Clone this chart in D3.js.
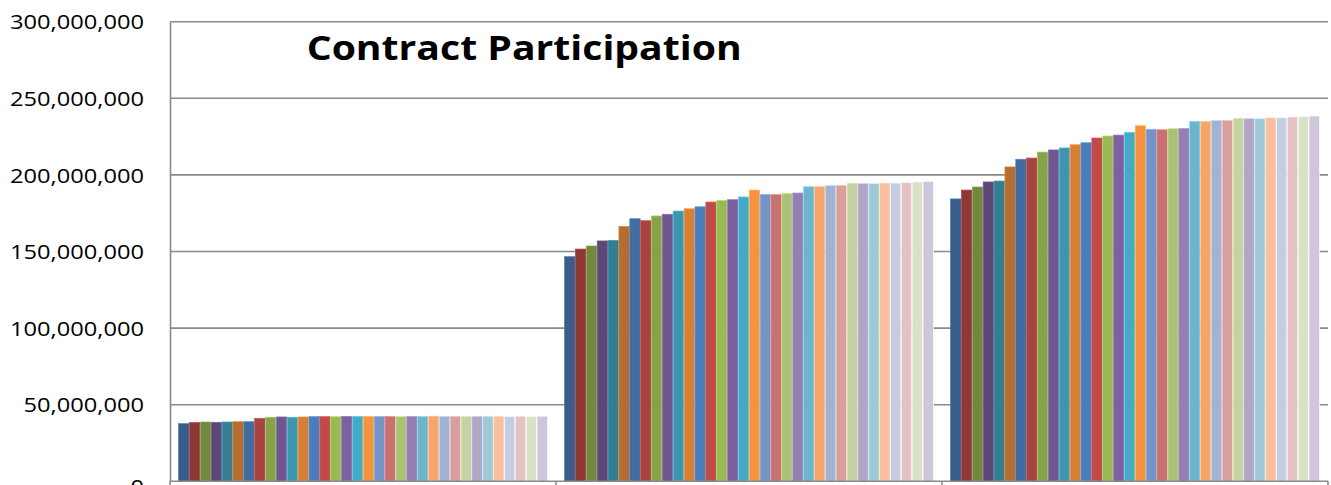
<!DOCTYPE html>
<html>
<head>
<meta charset="utf-8">
<script src="https://cdn.jsdelivr.net/npm/d3@7"></script>
<style>
  html, body { margin: 0; padding: 0; background: #ffffff; }
  svg { display: block; }
</style>
</head>
<body>
<svg id="chart" width="1331" height="485"></svg>
<script>
// ---- data ----
const categories = ["Category 1", "Category 2", "Category 3"];
const seriesNames = d3.range(1, 35).map(i => "Series " + i);
const category1Values = [37.6, 38.3, 38.7, 38.5, 38.7, 38.9, 38.9, 41.1, 41.8, 42.0, 41.8, 42.0,
  42.2, 42.2, 42.2, 42.4, 42.4, 42.2, 42.3, 42.4, 42.3, 42.4, 42.4, 42.5, 42.4, 42.4, 42.5, 42.4,
  42.5, 42.5, 42.4, 42.5, 42.4, 42.5].map(v => v * 1e6);
const category2Values = [146.6, 151.6, 153.6, 156.9, 157.3, 166.4, 171.4, 170.1, 173.2, 174.3, 176.4, 177.9,
  179.2, 182.3, 183.4, 183.8, 185.6, 190.1, 187.3, 187.1, 188.0, 188.2, 192.3, 192.3, 193.0, 193.2, 194.7, 194.3,
  194.3, 194.7, 194.7, 194.9, 195.4, 195.8].map(v => v * 1e6);
const category3Values = [184.3, 190.1, 192.1, 195.4, 196.0, 205.2, 210.2, 211.0, 214.9, 216.3, 217.6, 219.7,
  221.0, 224.1, 225.4, 226.0, 227.8, 232.1, 229.8, 229.5, 230.2, 230.4, 235.0, 235.0, 235.6, 235.6, 237.1, 236.7,
  236.7, 237.3, 237.3, 237.8, 238.2, 238.4].map(v => v * 1e6);
const seriesColors = [
  "#385D8A", "#8C3836", "#71893F", "#5C4776", "#357D91", "#B66D31",
  "#416CA0", "#A74442", "#86A34B", "#6E5690", "#3D95AE", "#D67F36",
  "#4A7EBB", "#BE4B48", "#98B954", "#7D60A0", "#46AAC5", "#F69240",
  "#7394C5", "#C97170", "#A9C276", "#957FB2", "#6EB5CB", "#F8A56C",
  "#A0B3D5", "#D7A09F", "#C3D3A3", "#B2A6C6", "#A0C9D8", "#F9BF9E",
  "#C4CDE2", "#E2C2C2", "#D8E2C6", "#CEC6DA"
];
const yTicks = [0, 50e6, 100e6, 150e6, 200e6, 250e6, 300e6];
const titleText = "Contract Participation";

const valuesByCategory = [category1Values, category2Values, category3Values];

// ---- layout ----
const svg = d3.select("#chart");
const plotLeft = 170, plotRight = 1328, plotTop = 21.7, plotBottom = 481.3;
const gridColor = "#8a8a8a";
const font = "'Open Sans', Lato, sans-serif";

const x0 = d3.scaleBand().domain(categories).range([plotLeft, plotRight]).paddingInner(0.0433).paddingOuter(0.0433 / 2);
const x1 = d3.scaleBand().domain(seriesNames).range([0, x0.bandwidth()]).padding(0);
const y = d3.scaleLinear().domain([0, 300e6]).range([plotBottom, plotTop]);

// gridlines
svg.append("g")
  .selectAll("line")
  .data(yTicks.filter(t => t > 0))
  .join("line")
  .attr("x1", plotLeft).attr("x2", plotRight)
  .attr("y1", d => y(d)).attr("y2", d => y(d))
  .attr("stroke", gridColor).attr("stroke-width", 1.6);

// bars
const groups = svg.append("g")
  .selectAll("g")
  .data(categories)
  .join("g")
  .attr("transform", d => `translate(${x0(d)},0)`);

groups.selectAll("rect")
  .data((c, ci) => seriesNames.map((s, si) => ({ s, si, v: valuesByCategory[ci][si] })))
  .join("rect")
  .attr("x", d => x1(d.s) + 0.25)
  .attr("width", x1.bandwidth() - 0.5)
  .attr("y", d => y(d.v))
  .attr("height", d => y(0) - y(d.v))
  .attr("fill", d => seriesColors[d.si])
  .attr("stroke", d => d3.color(seriesColors[d.si]).brighter(0.6).formatHex())
  .attr("stroke-width", 0.7);

// y axis
const yAxis = svg.append("g")
  .attr("transform", `translate(${plotLeft},0)`)
  .call(d3.axisLeft(y).tickValues(yTicks).tickFormat(d3.format(",")).tickSize(0).tickPadding(26));
yAxis.select(".domain").attr("stroke", gridColor).attr("stroke-width", 1.6);
yAxis.selectAll("text")
  .attr("font-family", font)
  .attr("font-size", 20)
  .attr("fill", "#000")
  .attr("dy", d => d === 0 ? "0.62em" : "0.36em");
// stretch tick labels horizontally to match reference proportions
const refNode = yAxis.selectAll("text").filter(d => d === 300e6).node();
const refW = refNode.getComputedTextLength();
const k = 134 / refW;
yAxis.selectAll("text").each(function () {
  const w = this.getComputedTextLength();
  d3.select(this).attr("textLength", w * k).attr("lengthAdjust", "spacingAndGlyphs");
});

// x axis
const xAxis = svg.append("g")
  .attr("transform", `translate(0,${plotBottom})`);
xAxis.append("line")
  .attr("x1", plotLeft).attr("x2", plotRight)
  .attr("stroke", gridColor).attr("stroke-width", 1.6);
xAxis.selectAll("line.tick")
  .data([plotLeft, ...categories.slice(1).map(c => x0(c) - x0.step() * x0.paddingInner() / 2), plotRight])
  .join("line")
  .attr("class", "tick")
  .attr("x1", d => d).attr("x2", d => d)
  .attr("y1", 0).attr("y2", 6)
  .attr("stroke", gridColor).attr("stroke-width", 1.6);

// title
const title = svg.append("text")
  .attr("x", 306.7)
  .attr("y", 59.5)
  .attr("font-family", font)
  .attr("font-weight", "bold")
  .attr("font-size", 34)
  .attr("fill", "#000")
  .text(titleText);
title.attr("textLength", 435).attr("lengthAdjust", "spacingAndGlyphs");
</script>
</body>
</html>
